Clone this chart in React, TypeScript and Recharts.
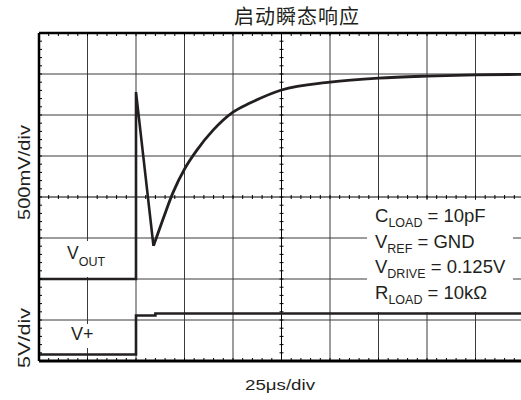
import React from 'react';
import { LineChart, Line, XAxis, YAxis, ReferenceLine } from 'recharts';

// time in divisions (25us/div), level in divisions from the bottom of the screen
const voutEdgeTime = [0, 2.0, 2.0, 2.36];
const voutEdgeLevel = [2.0, 2.0, 6.56, 2.81];
const voutRecoveryTime = [2.36, 2.56, 2.76, 3.01, 3.26, 3.59, 4.0, 4.35, 5.0, 6.0, 7.0, 8.0, 9.0, 10.0];
const voutRecoveryLevel = [2.81, 3.47, 4.1, 4.7, 5.15, 5.63, 6.07, 6.29, 6.61, 6.8, 6.9, 6.95, 6.98, 6.99];
const vplusTime = [0, 2.0, 2.0, 2.4, 2.4, 10];
const vplusLevel = [0.16, 0.16, 1.11, 1.11, 1.16, 1.16];

const gridX = [1, 2, 3, 4, 6, 7, 8, 9];
const gridY = [1, 2, 3, 5, 6, 7];
const minorX = Array.from({ length: 51 }, (_, i) => i * 0.2);
const minorY = Array.from({ length: 41 }, (_, i) => i * 0.2);

const zip = (t: number[], v: number[]) => t.map((x, i) => ({ t: x, v: v[i] }));

const INK = '#231f20';
const GRID = '#3a3a3a';
const LATIN = "'Liberation Sans', Arial, sans-serif";

// center graticule line with minor tick marks, split from the line's own end points
const CenterLine = (props: any) => {
  const { x1, y1, x2, y2, parts } = props;
  const vertical = Math.abs(x1 - x2) < 0.5;
  const marks = [];
  for (let i = 1; i < parts; i++) {
    const x = x1 + ((x2 - x1) * i) / parts;
    const y = y1 + ((y2 - y1) * i) / parts;
    marks.push(
      vertical ? (
        <line key={i} x1={x - 2} x2={x + 2} y1={y} y2={y} stroke="#000" strokeWidth={1} />
      ) : (
        <line key={i} x1={x} x2={x} y1={y - 2} y2={y + 2} stroke="#000" strokeWidth={1} />
      )
    );
  }
  return (
    <g>
      <line x1={x1} y1={y1} x2={x2} y2={y2} stroke="#000" strokeWidth={1} />
      {marks}
    </g>
  );
};

const noLabel = () => <g />;

const axisCommon = {
  tick: noLabel,
  tickSize: 3,
  tickLine: { stroke: '#000', strokeWidth: 1 },
  mirror: true,
  interval: 0 as const,
  allowDataOverflow: true,
  type: 'number' as const,
};

export default function App() {
  return (
    <div style={{ position: 'absolute', left: 0, top: 0, width: 521, height: 400, overflow: 'hidden', background: '#fff' }}>
      <LineChart width={560} height={400} margin={{ top: 33, left: 39, right: 36, bottom: 39 }}>
        <XAxis {...axisCommon} dataKey="t" domain={[0, 10]} ticks={minorX} axisLine={{ stroke: '#000', strokeWidth: 3 }} />
        <XAxis {...axisCommon} xAxisId="top" orientation="top" dataKey="t" domain={[0, 10]} ticks={minorX} axisLine={{ stroke: '#000', strokeWidth: 2.5 }} />
        <YAxis {...axisCommon} dataKey="v" domain={[0, 8]} ticks={minorY} axisLine={{ stroke: '#000', strokeWidth: 2.5 }} />
        <YAxis {...axisCommon} yAxisId="right" orientation="right" dataKey="v" domain={[0, 8]} ticks={minorY} axisLine={{ stroke: '#000', strokeWidth: 2.5 }} />

        {gridX.map((x) => (
          <ReferenceLine key={`gx${x}`} x={x} stroke={GRID} strokeWidth={1} />
        ))}
        {gridY.map((y) => (
          <ReferenceLine key={`gy${y}`} y={y} stroke={GRID} strokeWidth={1} />
        ))}
        <ReferenceLine x={5} stroke="#000" shape={(p: any) => <CenterLine {...p} parts={40} />} />
        <ReferenceLine y={4} stroke="#000" shape={(p: any) => <CenterLine {...p} parts={50} />} />

        <Line data={zip(vplusTime, vplusLevel)} dataKey="v" type="linear" stroke={INK} strokeWidth={2.6} dot={false} isAnimationActive={false} />
        <Line data={zip(voutEdgeTime, voutEdgeLevel)} dataKey="v" type="linear" stroke={INK} strokeWidth={2.6} dot={false} isAnimationActive={false} />
        <Line data={zip(voutRecoveryTime, voutRecoveryLevel)} dataKey="v" type="monotone" stroke={INK} strokeWidth={2.8} dot={false} isAnimationActive={false} />
      </LineChart>

      <svg width={521} height={400} style={{ position: 'absolute', left: 0, top: 0 }}>
        <text x={297} y={24} textAnchor="middle" fontSize={20} letterSpacing={1} fill={INK} fontFamily="'Noto Sans CJK SC', sans-serif">
          启动瞬态响应
        </text>

        <g fontFamily={LATIN} fill={INK}>
          <text transform="translate(30,172.5) rotate(-90)" textAnchor="middle" fontSize={16} textLength={95} lengthAdjust="spacingAndGlyphs">
            500mV/div
          </text>
          <text transform="translate(30,338) rotate(-90)" textAnchor="middle" fontSize={16} textLength={60} lengthAdjust="spacingAndGlyphs">
            5V/div
          </text>
          <text x={280} y={390} textAnchor="middle" fontSize={15.5} textLength={70} lengthAdjust="spacingAndGlyphs">
            25μs/div
          </text>

          <rect x={60} y={241} width={54} height={36} fill="#fff" />
          <text x={67} y={259} fontSize={17.5}>
            V<tspan fontSize={12.5} dy={7}>OUT</tspan>
          </text>

          <rect x={64} y={324} width={40} height={24} fill="#fff" />
          <text x={71} y={340} fontSize={18}>
            V+
          </text>

          <rect x={367} y={200} width={146} height={112} fill="#fff" />
          <text x={375} y={222} fontSize={18.5}>
            C<tspan fontSize={12.5} dy={5}>LOAD</tspan>
            <tspan dy={-5}> = 10pF</tspan>
          </text>
          <text x={375} y={247.5} fontSize={18.5}>
            V<tspan fontSize={12.5} dy={5}>REF</tspan>
            <tspan dy={-5}> = GND</tspan>
          </text>
          <text x={375} y={273} fontSize={18.5}>
            V<tspan fontSize={12.5} dy={5}>DRIVE</tspan>
            <tspan dy={-5}> = 0.125V</tspan>
          </text>
          <text x={375} y={299} fontSize={18.5}>
            R<tspan fontSize={12.5} dy={5}>LOAD</tspan>
            <tspan dy={-5}> = 10kΩ</tspan>
          </text>
        </g>
      </svg>
    </div>
  );
}
